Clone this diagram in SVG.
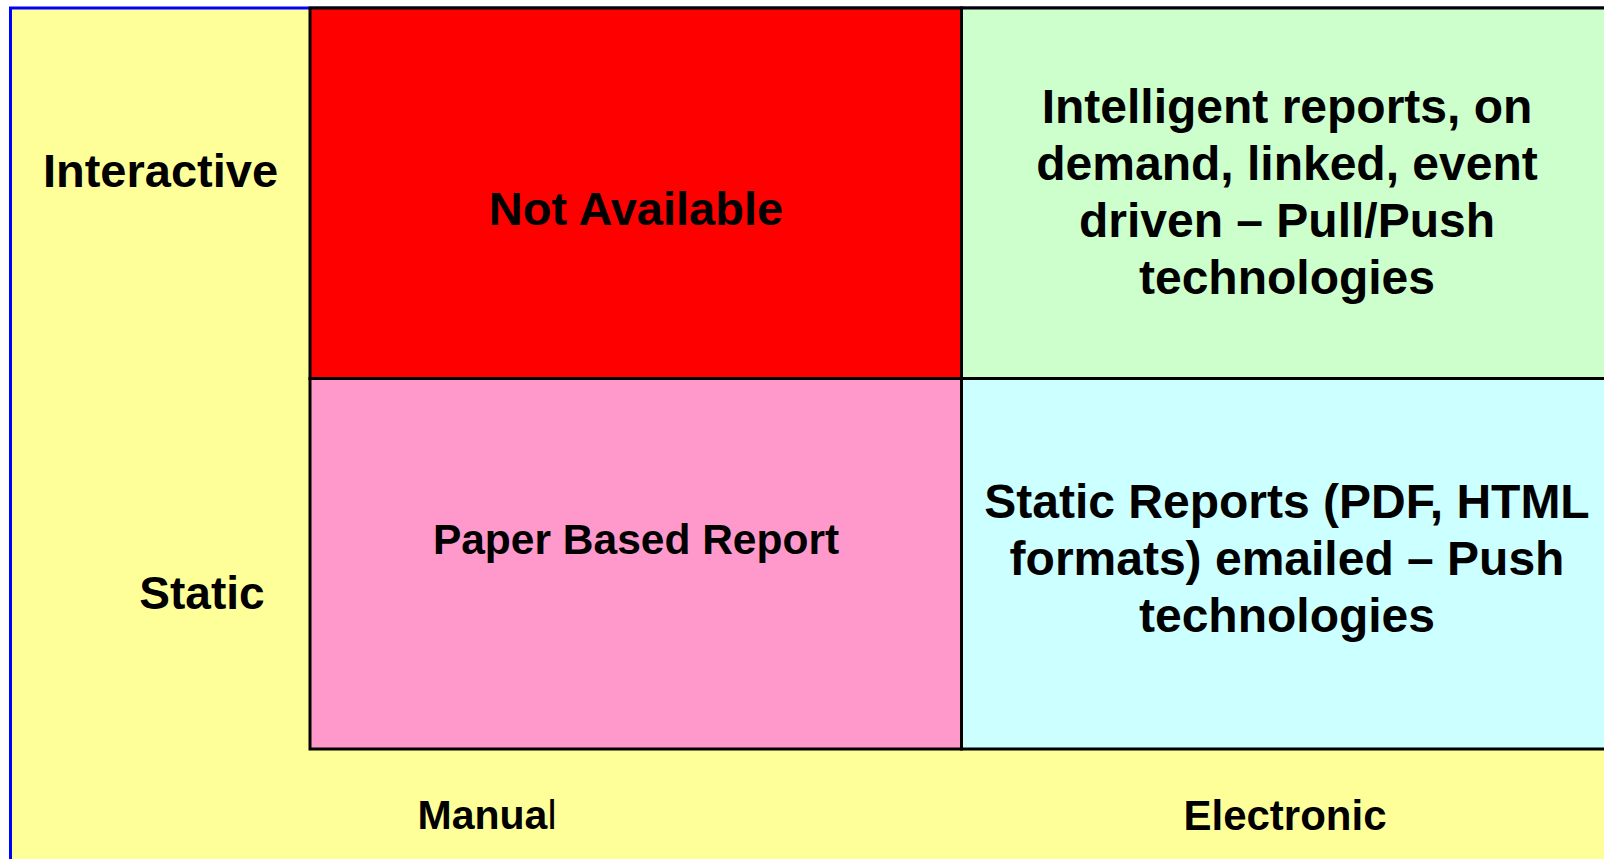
<svg xmlns="http://www.w3.org/2000/svg" width="1604" height="859" viewBox="0 0 1604 859">
<style>
.t{font-family:"Liberation Sans",Arial,sans-serif;font-weight:bold;fill:#000;text-anchor:middle}
.cell{stroke:#000;stroke-width:3}
</style>
<rect x="0" y="0" width="1604" height="859" fill="#fff"/>
<g id="background">
<rect x="10.5" y="8" width="1700" height="1000" fill="#FFFF99" stroke="#0000FF" stroke-width="3"/>
</g>
<g id="cell-not-available">
<rect class="cell" x="310" y="8" width="651.5" height="370.5" fill="#FF0000"/>
<text class="t" x="636" y="225" font-size="47">Not Available</text>
</g>
<g id="cell-intelligent">
<rect class="cell" x="961.5" y="8" width="700" height="370.5" fill="#CCFFCC"/>
<text class="t" font-size="48"><tspan x="1287" y="123">Intelligent reports, on</tspan><tspan x="1287" y="180">demand, linked, event</tspan><tspan x="1287" y="237">driven – Pull/Push</tspan><tspan x="1287" y="294">technologies</tspan></text>
</g>
<g id="cell-paper">
<rect class="cell" x="310" y="378.5" width="651.5" height="370.5" fill="#FF99CC"/>
<text class="t" x="636" y="554" font-size="42.5">Paper Based Report</text>
</g>
<g id="cell-static">
<rect class="cell" x="961.5" y="378.5" width="700" height="370.5" fill="#CCFFFF"/>
<text class="t" font-size="48"><tspan x="1287" y="518">Static Reports (PDF, HTML</tspan><tspan x="1287" y="575">formats) emailed – Push</tspan><tspan x="1287" y="632">technologies</tspan></text>
</g>
<g id="labels">
<text class="t" x="160.5" y="187" font-size="47">Interactive</text>
<text class="t" x="202" y="609" font-size="46">Static</text>
<text class="t" x="487" y="829" font-size="41">Manua<tspan font-weight="normal">l</tspan></text>
<text class="t" x="1285" y="830" font-size="42">Electronic</text>
</g>
<g id="connectors"></g>
</svg>
